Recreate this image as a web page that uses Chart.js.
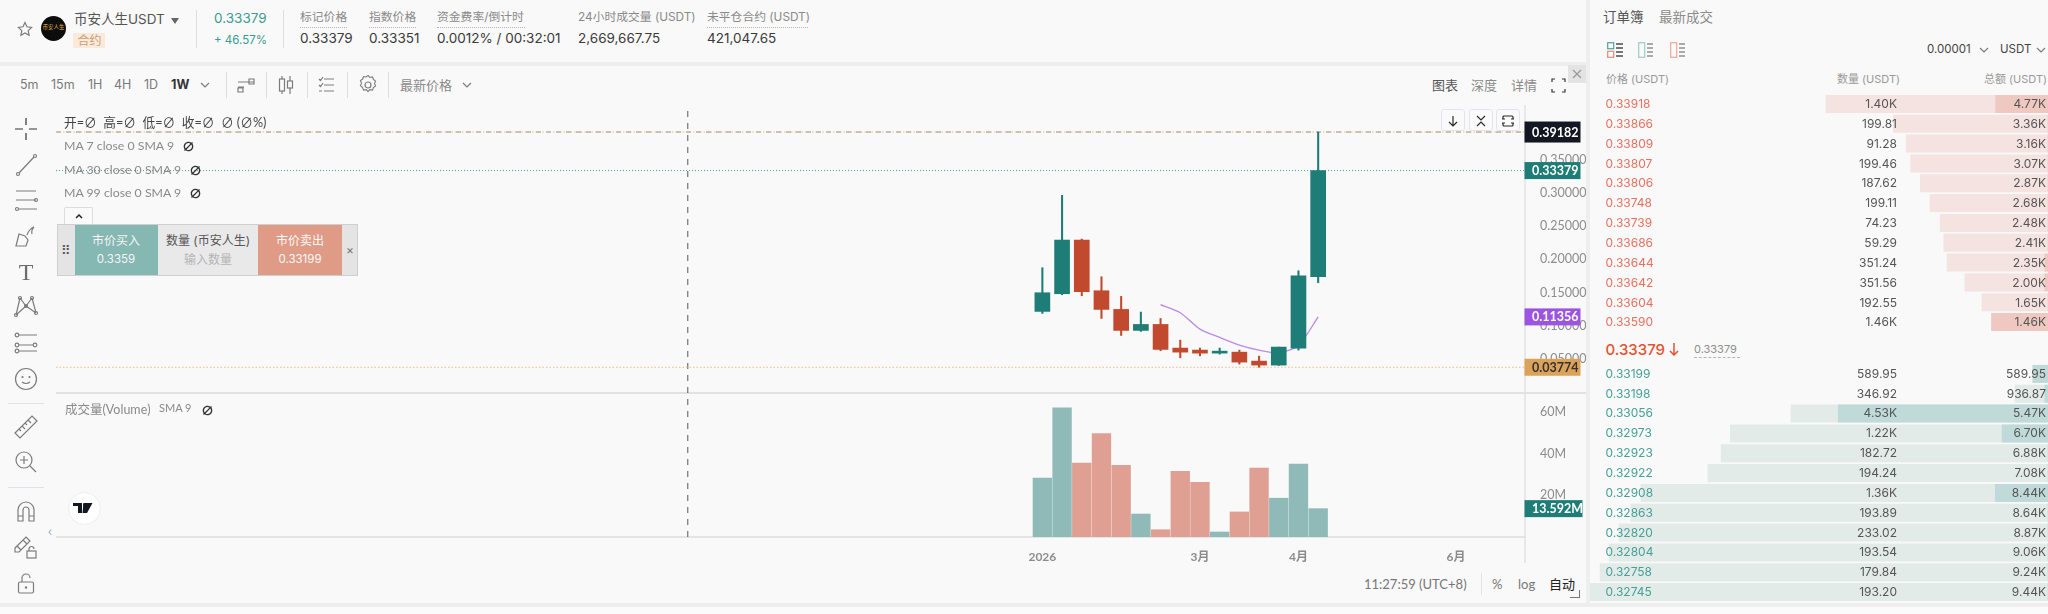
<!DOCTYPE html>
<html>
<head>
<meta charset="utf-8">
<title>币安人生USDT</title>
<script src="https://cdn.jsdelivr.net/npm/chart.js@4"></script>
<style>
  * { box-sizing: border-box; }
  html, body { margin: 0; padding: 0; width: 2048px; height: 614px; overflow: hidden; background: #f9f9f9; font-family: Inter, "Noto Sans CJK SC", sans-serif; }
  .t { position: absolute; white-space: nowrap; line-height: 1; transform: translateY(-50%); }
  .r { transform: translate(-100%, -50%); }
  .box { position: absolute; }
  .lt { font-family: Lato, "Noto Sans CJK SC", sans-serif; }
  canvas { display: block; }
  .cw { position: absolute; }
  svg.i { position: absolute; fill: none; stroke: #7c7c7c; stroke-width: 1.2; }
</style>
</head>
<body>
<div id="ui"></div>
<div class="cw" style="left:56px;top:105px;width:1530px;height:288px"><canvas id="priceChart"></canvas></div>
<div class="cw" style="left:56px;top:393px;width:1530px;height:170px"><canvas id="volumeChart"></canvas></div>
<div class="cw" style="left:1589px;top:94px;width:459px;height:238px"><canvas id="asksChart"></canvas></div>
<div class="cw" style="left:1589px;top:364px;width:459px;height:238px"><canvas id="bidsChart"></canvas></div>
<div id="over"></div>
<script>
// candles, oldest first (weekly)
const opens  = [0.1218, 0.1484, 0.2292, 0.1529, 0.1248, 0.0932, 0.1022, 0.0666, 0.0636, 0.0590, 0.0605, 0.0470, 0.0410, 0.0666, 0.1740];
const closes = [0.1499, 0.2292, 0.1514, 0.1248, 0.0932, 0.1022, 0.0646, 0.0605, 0.0590, 0.0620, 0.0455, 0.0410, 0.0681, 0.1755, 0.33379];
const highs  = [0.1876, 0.2965, 0.2307, 0.1740, 0.1444, 0.1208, 0.1112, 0.0786, 0.0666, 0.0666, 0.0636, 0.0545, 0.0681, 0.1830, 0.39182];
const lows   = [0.1188, 0.1469, 0.1454, 0.1112, 0.0856, 0.0917, 0.0626, 0.0520, 0.0550, 0.0575, 0.0425, 0.03774, 0.0405, 0.0636, 0.1650];
const volumes = [28.2, 61.9, 35.4, 49.6, 34.4, 11.0, 3.5, 31.5, 26.2, 2.4, 12.0, 33.0, 18.6, 34.9, 13.592];
const maValues = [null, null, null, null, null, null, 0.1318, 0.1198, 0.0952, 0.0826, 0.0711, 0.0635, 0.0595, 0.0705, 0.11356];

const priceTicks = [0.05, 0.10, 0.15, 0.20, 0.25, 0.30, 0.35];
const volumeTicks = [20, 40, 60];
const timeTickIndex = [0, 8, 13, 21];
const timeTickLabels = ['2026', '3月', '4月', '6月'];

const highPrice = 0.39182, lastPrice = 0.33379, lowPrice = 0.03774, maPrice = 0.11356;
const lastVolume = 13.592;
const crosshairIndex = -18;

// order book
const askPrices = ['0.33918','0.33866','0.33809','0.33807','0.33806','0.33748','0.33739','0.33686','0.33644','0.33642','0.33604','0.33590'];
const askAmounts = ['1.40K','199.81','91.28','199.46','187.62','199.11','74.23','59.29','351.24','351.56','192.55','1.46K'];
const askTotals = ['4.77K','3.36K','3.16K','3.07K','2.87K','2.68K','2.48K','2.41K','2.35K','2.00K','1.65K','1.46K'];
const askDepth = [4.84, 3.37, 3.09, 2.99, 2.78, 2.57, 2.35, 2.27, 2.20, 1.81, 1.44, 1.23];
const askSize  = [1.14, 0, 0, 0, 0, 0, 0, 0, 0.07, 0.07, 0, 1.23];
const bidPrices = ['0.33199','0.33198','0.33056','0.32973','0.32923','0.32922','0.32908','0.32863','0.32820','0.32804','0.32758','0.32745'];
const bidAmounts = ['589.95','346.92','4.53K','1.22K','182.72','194.24','1.36K','193.89','233.02','193.54','179.84','193.20'];
const bidTotals = ['589.95','936.87','5.47K','6.70K','6.88K','7.08K','8.44K','8.64K','8.87K','9.06K','9.24K','9.44K'];
const bidDepth = [0.33, 0.72, 5.60, 6.92, 7.12, 7.41, 8.87, 9.09, 9.35, 9.56, 9.76, 9.98];
const bidSize  = [0.33, 0.07, 4.57, 1.00, 0, 0, 1.15, 0, 0, 0, 0, 0];

const UP = '#1e7d76', DOWN = '#c1492d', UP_VOL = '#8fbab8', DOWN_VOL = '#dfa093';
const AXIS_TEXT = '#8c8c8c';
const X_MIN = -50.07, X_MAX = 24.55, AXIS_W = 60;

const idx = opens.map((_, i) => i);
const isUp = idx.map(i => closes[i] >= opens[i]);

function hline(v, color, dash, w) {
    return { type: 'line', data: [{ x: X_MIN, y: v }, { x: X_MAX, y: v }], borderColor: color, borderWidth: w || 1, borderDash: dash, pointRadius: 0, order: 5 };
}
function vline(lo, hi) {
    return { type: 'line', data: [{ x: crosshairIndex, y: lo }, { x: crosshairIndex, y: hi }], borderColor: '#5a5a5a', borderWidth: 1, borderDash: [6, 6], pointRadius: 0, order: 5 };
}
const xAxis = (showTicks) => ({
    type: 'linear', min: X_MIN, max: X_MAX, offset: false,
    grid: { display: false }, border: { display: false },
    afterBuildTicks: s => { s.ticks = timeTickIndex.map(v => ({ value: v })); },
    ticks: {
        display: showTicks, autoSkip: false, maxRotation: 0, padding: 5, color: AXIS_TEXT,
        font: { family: 'Lato, "Noto Sans CJK SC"', size: 12, weight: 'bold' },
        callback: v => timeTickLabels[timeTickIndex.indexOf(v)]
    }
});
// fixed axis width, and no room reserved for the outer tick labels
const fitY = s => { s.width = AXIS_W; s.paddingTop = 0; s.paddingBottom = 0; };

// coloured price tags on the right axis, placed through the y scale
const tagPlugin = {
    id: 'tags',
    afterDraw(chart, args, opts) {
        const { ctx, scales: { y } } = chart;
        ctx.save();
        ctx.font = '700 12.5px Lato';
        ctx.textBaseline = 'middle';
        opts.tags.forEach(tag => {
            const py = y.getPixelForValue(tag.value);
            const h = tag.h || 17;
            ctx.fillStyle = tag.bg;
            ctx.fillRect(y.left - 1.5, py - h / 2, tag.w, h);
            ctx.fillStyle = tag.fg;
            ctx.textAlign = 'left';
            ctx.fillText(tag.text, y.left + 6, py + 0.5);
        });
        ctx.restore();
    }
};

// right-hand axis line
const axisLine = {
    id: 'axisLine',
    beforeDatasetsDraw(chart) {
        const { ctx, scales: { y }, height } = chart;
        ctx.save();
        ctx.strokeStyle = '#e2e2e2';
        ctx.lineWidth = 1.5;
        ctx.beginPath();
        ctx.moveTo(y.left - 1, 0); ctx.lineTo(y.left - 1, height);
        ctx.stroke();
        ctx.restore();
    }
};

new Chart(document.getElementById('priceChart'), {
    data: {
        datasets: [
            { type: 'bar', data: idx.map(i => ({ x: i, y: [opens[i], closes[i]] })), backgroundColor: idx.map(i => isUp[i] ? UP : DOWN), barThickness: 15, grouped: false, order: 1 },
            { type: 'bar', data: idx.map(i => ({ x: i, y: [lows[i], highs[i]] })), backgroundColor: idx.map(i => isUp[i] ? UP : DOWN), barThickness: 1.4, grouped: false, order: 2 },
            { type: 'line', data: idx.map(i => ({ x: i, y: maValues[i] })), borderColor: '#bb8be8', borderWidth: 1.4, pointRadius: 0, tension: 0.25, order: 3 },
            hline(highPrice, '#f0bd85', [1.5, 2], 1),
            hline(highPrice, '#8a8a8a', [5, 5], 1),
            hline(lastPrice, '#4d9e98', [1, 2], 1),
            hline(lowPrice, '#f0bd85', [1.5, 2], 1),
            vline(-0.001, 0.4325)
        ]
    },
    options: {
        responsive: true, maintainAspectRatio: false, animation: false,
        layout: { padding: 0, autoPadding: false },
        plugins: {
            legend: { display: false }, tooltip: { enabled: false },
            tags: { tags: [
                { value: highPrice, text: highPrice.toFixed(5), bg: '#131722', fg: '#ffffff', w: 56, h: 21 },
                { value: lastPrice, text: lastPrice.toFixed(5), bg: UP, fg: '#ffffff', w: 56 },
                { value: maPrice, text: maPrice.toFixed(5), bg: '#9b55e0', fg: '#ffffff', w: 56 },
                { value: lowPrice, text: lowPrice.toFixed(5), bg: '#dda25a', fg: '#333333', w: 56 }
            ] }
        },
        scales: {
            x: { ...xAxis(false), afterFit: s => { s.height = 0; } },
            y: {
                position: 'right', min: -0.001, max: 0.4325,
                afterFit: fitY,
                grid: { display: false }, border: { display: false },
                afterBuildTicks: s => { s.ticks = priceTicks.map(v => ({ value: v })); },
                ticks: { padding: 6, color: AXIS_TEXT, font: { family: 'Lato', size: 12.5 }, callback: v => v.toFixed(5) }
            }
        }
    },
    plugins: [tagPlugin, axisLine]
});

new Chart(document.getElementById('volumeChart'), {
    data: {
        datasets: [
            { type: 'bar', data: idx.map(i => ({ x: i, y: volumes[i] })), backgroundColor: idx.map(i => isUp[i] ? UP_VOL : DOWN_VOL), barThickness: 18.7, grouped: false, order: 1 },
            vline(0, 69)
        ]
    },
    options: {
        responsive: true, maintainAspectRatio: false, animation: false,
        layout: { padding: 0, autoPadding: false },
        plugins: {
            legend: { display: false }, tooltip: { enabled: false },
            tags: { tags: [{ value: lastVolume, text: lastVolume.toFixed(3) + 'M', bg: UP, fg: '#ffffff', w: 58 }] }
        },
        scales: {
            x: { ...xAxis(true), afterFit: s => { s.height = 26; } },
            y: {
                position: 'right', min: 0, max: 69,
                afterFit: fitY,
                grid: { display: false }, border: { display: false },
                afterBuildTicks: s => { s.ticks = volumeTicks.map(v => ({ value: v })); },
                ticks: { padding: 6, color: AXIS_TEXT, font: { family: 'Lato', size: 12.5 }, callback: v => v + 'M' }
            }
        }
    },
    plugins: [tagPlugin, axisLine]
});

function bookChart(id, depth, size, light, dark) {
    new Chart(document.getElementById(id), {
        type: 'bar',
        data: {
            labels: depth.map((_, i) => i),
            datasets: [
                { data: size, backgroundColor: dark, barThickness: 17.3, grouped: false, order: 1 },
                { data: depth, backgroundColor: light, barThickness: 17.3, grouped: false, order: 2 }
            ]
        },
        options: {
            indexAxis: 'y',
            responsive: true, maintainAspectRatio: false, animation: false,
            layout: { padding: 0, autoPadding: false },
            plugins: { legend: { display: false }, tooltip: { enabled: false } },
            scales: {
                x: { reverse: true, min: 0, max: 10, display: false },
                y: { display: false }
            }
        }
    });
}
bookChart('asksChart', askDepth, askSize, '#f4e3e1', '#efc9c1');
bookChart('bidsChart', bidDepth, bidSize, '#e3ebe9', '#bfdad8');

// ---- page furniture around the charts ----
const ui = document.getElementById('ui');
const over = document.getElementById('over');
function box(l, t, w, h, css, parent) {
    const d = document.createElement('div');
    d.className = 'box';
    d.style.cssText = `left:${l}px;top:${t}px;width:${w}px;height:${h}px;${css}`;
    (parent || ui).appendChild(d);
    return d;
}
function text(s, x, y, size, color, extra, cls) {
    const d = document.createElement('div');
    d.className = 't ' + (cls || '');
    d.textContent = s;
    d.style.cssText = `left:${x}px;top:${y}px;font-size:${size}px;color:${color};${extra || ''}`;
    over.appendChild(d);
    return d;
}
function icon(x, y, w, h, inner, stroke) {
    const wrap = document.createElement('div');
    wrap.innerHTML = `<svg class="i" style="left:${x - w / 2}px;top:${y - h / 2}px;${stroke ? 'stroke:' + stroke : ''}" width="${w}" height="${h}" viewBox="0 0 ${w} ${h}">${inner}</svg>`;
    over.appendChild(wrap);
}
const CENTER = 'transform:translate(-50%,-50%)';

// bands
box(0, 62, 1586, 4, 'background:#eeeeee');
box(0, 603, 2048, 4, 'background:#eeeeee');
box(0, 607, 2048, 7, 'background:#fbfbfb');
box(1586, 0, 4, 607, 'background:#eeeeee');
box(56, 392, 1530, 1.5, 'background:#e2e2e2');
box(56, 536, 1470, 1.5, 'background:#e4e4e4');

// header
const GREY = '#8a8a8a', DARK = '#3a3a3a', TEAL = '#3d9a92';
icon(25, 29, 16, 16, '<path d="M8 1.5l2 4.3 4.6.6-3.4 3.2.9 4.7L8 11.9l-4.1 2.4.9-4.7L1.4 6.4 6 5.8z"/>');
box(41, 16, 25, 25, 'background:#0c0c0c;border-radius:50%');
text('币安人生', 53.5, 28, 5.5, '#e0b341', CENTER);
text('币安人生USDT', 74, 20, 13.5, '#555555');
box(171, 18, 0, 0, 'border-left:4.5px solid transparent;border-right:4.5px solid transparent;border-top:6px solid #666');
box(73, 33, 32, 15, 'background:#fbeadb');
text('合约', 77.5, 41, 12, '#c9a27a');
box(196, 10, 1, 38, 'background:#dddddd');
box(283, 10, 1, 38, 'background:#dddddd');
text('0.33379', 214, 19, 13.5, TEAL);
text('+ 46.57%', 214, 41, 11.5, TEAL);
[['标记价格', '0.33379', 300, 47], ['指数价格', '0.33351', 369, 47], ['资金费率/倒计时', '0.0012% / 00:32:01', 437, 88], ['24小时成交量 (USDT)', '2,669,667.75', 578, 0], ['未平仓合约 (USDT)', '421,047.65', 707, 101]].forEach(c => {
    text(c[0], c[2], 18, 11.8, GREY);
    text(c[1], c[2], 39, 13.5, DARK);
    if (c[3]) box(c[2], 27, c[3], 0, 'border-top:1px dotted #b5b5b5');
});

// toolbar
[['5m', 20], ['15m', 51], ['1H', 88], ['4H', 114], ['1D', 144]].forEach(c => text(c[0], c[1], 85, 12.5, '#7a7a7a'));
text('1W', 171, 85, 12.5, '#333333', 'font-weight:700');
const chev = '<path d="M2 4l4 4 4-4"/>';
icon(205, 85, 12, 12, chev);
[225.5, 266, 307, 347, 388].forEach(x => box(x, 72, 1, 26, 'background:#dddddd'));
icon(246, 85, 18, 16, '<path d="M1 10h6M17 5H1M12 2h5v5h-5zM1 11h5v4H1z"/>');
icon(286, 85, 18, 20, '<path d="M5 1v18M13 1v18"/><rect x="2.5" y="4" width="5" height="12" fill="#f9f9f9"/><rect x="10.5" y="6" width="5" height="7" fill="#f9f9f9"/>');
icon(327, 85, 18, 18, '<path d="M6 3h10M6 9h10M6 15h10M1 3l1.5 1.5L5 1M1 9l1.5 1.5L5 7M1 15h3"/>');
icon(368, 85, 18, 20, '<circle cx="9" cy="10" r="3"/><path d="M9 1.5l2 2.2 3-.5 1 2.8 2.4 1.8-1.2 2.7 1.2 2.7-2.4 1.8-1 2.8-3-.5-2 2.2-2-2.2-3 .5-1-2.8L.6 12.7 1.8 10 .6 7.3 3 5.5l1-2.8 3 .5z" transform="translate(0.9,-0.9) scale(.9)"/>');
text('最新价格', 400, 85, 13, GREY);
icon(467, 85, 12, 12, chev);
text('图表', 1432, 85, 13, '#555555');
text('深度', 1471, 85, 13, '#8a8a8a');
text('详情', 1511, 85, 13, '#8a8a8a');
icon(1558, 85, 15, 15, '<path d="M1 4V1h3M11 1h3v3M14 11v3h-3M4 14H1v-3" stroke="#333"/>');
box(1568, 65, 18, 18, 'background:#e3e3e3', over);
icon(1577, 74, 10, 10, '<path d="M1 1l8 8M9 1L1 9" stroke="#999"/>');

// top-right chart buttons
[[1452.7, '<path d="M7 2v10M3 8l4 4 4-4"/>'], [1481, '<path d="M3 2l4 4 4-4M3 12l4-4 4 4"/>'], [1508, '<path d="M2 5V3q0-1 1-1h8q1 0 1 1v2M2 9v2q0 1 1 1h8q1 0 1-1V9M1 5h3M10 5h3M1 9h3M10 9h3"/>']].forEach(b => {
    box(b[0] - 12, 109, 24, 22, 'background:#fafafa;border:1px solid #e3e3ee;border-radius:3px', over);
    icon(b[0], 120.5, 14, 14, b[1], '#2a2a2a');
});

// legend
const NUL = '∅';
text(`开=${NUL}  高=${NUL}  低=${NUL}  收=${NUL}  ${NUL} (${NUL}%)`, 64, 122, 12.7, '#444444', 'white-space:pre', 'lt');
['MA 7 close 0 SMA 9', 'MA 30 close 0 SMA 9', 'MA 99 close 0 SMA 9'].forEach((s, i) => {
    text(s, 64, 146 + i * 23.6, 12.3, GREY, '', 'lt');
    text(NUL, [182, 189, 189][i], 146 + i * 23.6, 13, '#333333', 'font-weight:700', 'lt');
});

// quick trade widget
box(64, 207, 29, 18, 'background:#fafafa;border:1px solid #dddddd;border-bottom:none;border-radius:2px 2px 0 0', over);
icon(78.5, 216, 12, 10, '<path d="M3 7l3-3 3 3" stroke="#222" stroke-width="1.5"/>');
box(57, 224, 301, 52, 'background:#e4e4e4;border:1px solid #cfcfcf', over);
box(75, 225, 83, 50, 'background:#85b8b3', over);
box(158, 225, 100, 50, 'background:#e9e9e9', over);
box(258, 225, 84, 50, 'background:#e09b87', over);
text('⠿', 66, 250, 13, '#555555', CENTER);
text('市价买入', 116, 241, 12, '#f5f5f5', CENTER);
text('0.3359', 116, 260, 11.5, '#f5f5f5', CENTER);
text('数量 (币安人生)', 208, 241, 12, '#555555', CENTER);
text('输入数量', 208, 260, 12, '#b5b5b5', CENTER);
text('市价卖出', 300, 241, 12, '#f8f8f8', CENTER);
text('0.33199', 300, 260, 11.5, '#f8f8f8', CENTER);
text('×', 350, 250, 12, '#777777', CENTER);

// left drawing tools
icon(26, 129, 24, 24, '<path d="M12 1v7M12 16v7M1 12h8M15 12h8"/>', '#333');
icon(26, 165, 24, 24, '<circle cx="4" cy="21" r="1.5"/><circle cx="21" cy="3" r="1.5"/><path d="M5 20L20 4"/>');
icon(26, 200, 26, 24, '<path d="M3 3h20M3 12h20M6 21h18"/><circle cx="23" cy="12" r="1.5"/><circle cx="4" cy="21" r="1.5"/>');
icon(26, 237, 26, 24, '<path d="M3 21l3-12 6 2 3 4-2 6zM14 10q2-6 7-8M21 2q-3 3-2 7"/>');
text('T', 26, 272, 24, '#6d6d6d', 'font-family:"Liberation Serif";' + CENTER);
icon(26, 307, 26, 24, '<circle cx="7" cy="3" r="1.5"/><circle cx="19" cy="3" r="1.5"/><circle cx="13" cy="11" r="1.5"/><circle cx="3" cy="20" r="1.5"/><circle cx="23" cy="18" r="1.5"/><path d="M7 3l6 8 6-8M3 20L7 3M19 3l4 15M13 11l10 7M13 11L3 20"/>');
icon(26, 343, 26, 22, '<circle cx="4" cy="3" r="1.8"/><circle cx="4" cy="13" r="1.8"/><circle cx="4" cy="19" r="1.8"/><circle cx="22" cy="13" r="1.8"/><path d="M6 3h18M6 13h14M6 19h18"/>');
icon(26, 379, 24, 24, '<circle cx="12" cy="12" r="10.5"/><circle cx="8.5" cy="10" r=".5"/><circle cx="15.5" cy="10" r=".5"/><path d="M8 15q4 3 8 0"/>');
box(8, 403, 36, 1, 'background:#e0e0e8', over);
icon(26, 427, 26, 26, '<path d="M2 19L19 2l5 5L7 24zM6 15l2 2M9 12l3 3M12 9l2 2M15 6l3 3"/>');
icon(26, 462, 24, 24, '<circle cx="10" cy="10" r="8"/><path d="M10 6v8M6 10h8M16 16l6 6"/>');
box(8, 487, 36, 1, 'background:#e0e0e8', over);
icon(26, 512, 20, 22, '<path d="M2 20V9a8 8 0 0 1 16 0v11h-5V9a3 3 0 0 0-6 0v11zM2 15h5M13 15h5"/>');
icon(26, 547, 26, 24, '<path d="M2 13L13 2l4 4L6 17H2zM4 11l4 4M10 5l4 4"/><rect x="14" y="16" width="9" height="7"/><path d="M16 16v-2a2.5 2.5 0 0 1 5 0"/>');
icon(26, 584, 18, 22, '<rect x="1.5" y="9" width="15" height="11" rx="1.5"/><path d="M5 9V5a4 4 0 0 1 8 0"/><circle cx="9" cy="14.5" r=".6"/>');
text('‹', 50, 532, 12, '#9ab8c8', CENTER);

// volume legend and logo
text('成交量(Volume)', 65, 410, 12.5, GREY, '', 'lt');
text('SMA 9', 159, 407, 11, GREY, '', 'lt');
text(NUL, 201, 410, 13, '#333333', 'font-weight:700', 'lt');
box(67.5, 491.5, 33, 33, 'background:#ffffff;border:1px solid #ececf2;border-radius:50%', over);
icon(84, 508, 22, 12, '<path d="M0 1h9v10H5V4H0zM10.5 1h9L14 11h-4.5z" fill="#131722" stroke="none"/><circle cx="12" cy="3" r="2" fill="#131722" stroke="none"/>');

// bottom bar
text('11:27:59 (UTC+8)', 1364, 584, 13, '#777777', '', 'lt');
box(1481, 573, 1, 22, 'background:#e4e4e4');
text('%', 1492, 584, 13, '#777777', '', 'lt');
text('log', 1518, 584, 13, '#777777', '', 'lt');
text('自动', 1549, 584, 13, '#222222', '', 'lt');
box(1570, 590, 10, 8, 'border-right:1px solid #777;border-bottom:1px solid #777', over);

// order book
text('订单簿', 1603, 18, 13.5, '#555555');
text('最新成交', 1659, 18, 13.5, GREY);
icon(1615, 50, 17, 16, '<rect x=".7" y=".7" width="6" height="6" stroke="#4aa59d"/><rect x=".7" y="9.3" width="6" height="6" stroke="#e58a78"/><path d="M9 2h7M9 6h7M9 10h7M9 14h7" stroke="#777" stroke-width="2"/>');
icon(1646, 50, 16, 16, '<rect x=".7" y=".7" width="6" height="14.6" stroke="#9ccbc6"/><path d="M9 2h6M9 6h6M9 10h6M9 14h6" stroke="#aaa" stroke-width="2"/>');
icon(1678, 50, 16, 16, '<rect x=".7" y=".7" width="6" height="14.6" stroke="#eba899"/><path d="M9 2h6M9 6h6M9 10h6M9 14h6" stroke="#aaa" stroke-width="2"/>');
text('0.00001', 1927, 50, 11.5, '#444444');
icon(1984, 50, 10, 10, '<path d="M1 3l4 4 4-4"/>');
text('USDT', 2000, 50, 11.5, '#444444');
icon(2041, 50, 10, 10, '<path d="M1 3l4 4 4-4"/>');
text('价格 (USDT)', 1606, 79, 11, '#9a9a9a');
text('数量 (USDT)', 1900, 79, 11, '#9a9a9a', '', 'r');
text('总额 (USDT)', 2047, 79, 11, '#9a9a9a', '', 'r');
const ROW = 19.85;
askPrices.forEach((p, i) => {
    const y = 104 + i * ROW;
    text(p, 1605.5, y, 12, '#e8705f');
    text(askAmounts[i], 1897, y, 12, '#555555', '', 'r');
    text(askTotals[i], 2046, y, 12, '#555555', '', 'r');
});
text('0.33379', 1605.5, 349, 15, '#e4532f', 'font-weight:500');
icon(1674, 349, 10, 14, '<path d="M5 1v12M1 9l4 4 4-4" stroke="#e4532f" stroke-width="1.5"/>');
text('0.33379', 1694, 349, 11, '#8f8f8f');
box(1694, 357, 46, 0, 'border-top:1px dashed #b5b5b5', over);
bidPrices.forEach((p, i) => {
    const y = 373.7 + i * ROW;
    text(p, 1605.5, y, 12, '#45a096');
    text(bidAmounts[i], 1897, y, 12, '#555555', '', 'r');
    text(bidTotals[i], 2046, y, 12, '#555555', '', 'r');
});
</script>
</body>
</html>
